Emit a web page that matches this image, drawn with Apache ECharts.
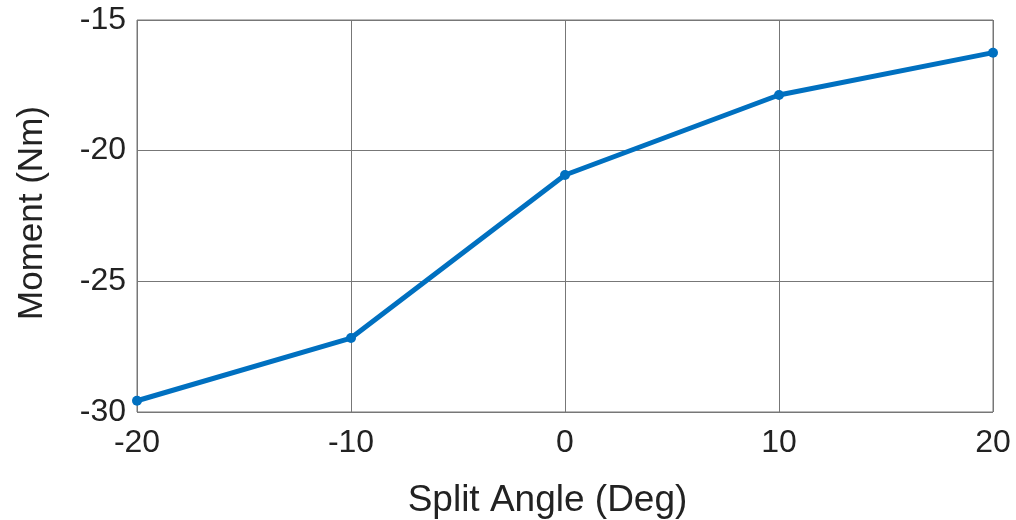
<!DOCTYPE html>
<html>
<head>
<meta charset="utf-8">
<script src="https://cdn.jsdelivr.net/npm/echarts@6/dist/echarts.min.js"></script>
<style>html,body{margin:0;padding:0;background:#fff;}#c{width:1016px;height:520px;}</style>
</head>
<body>
<div id="c"></div>
<script>
const splitAngles = [-20, -10, 0, 10, 20];
const moments = [-29.57, -27.17, -20.93, -17.87, -16.25];
const xTitle = 'Split Angle (Deg)';
const yTitle = 'Moment (Nm)';

const chart = echarts.init(document.getElementById('c'), null, {renderer: 'canvas'});
const font = 'Liberation Sans, Arial, sans-serif';
chart.setOption({
  animation: false,
  backgroundColor: '#fff',
  grid: {left: 137, right: 23, top: 20, bottom: 108, show: true, borderColor: '#777', borderWidth: 1,
         containLabel: false, outerBoundsMode: 'none'},
  xAxis: {
    type: 'value', min: -20, max: 20, interval: 10,
    name: xTitle, nameLocation: 'middle', nameGap: 70,
    nameTextStyle: {fontFamily: font, fontSize: 37, color: '#222', padding: [0, 35, 0, 0]},
    axisLine: {show: false}, axisTick: {show: false},
    axisLabel: {fontFamily: font, fontSize: 32, color: '#222', margin: 15},
    splitLine: {show: true, lineStyle: {color: '#777', width: 1}}
  },
  yAxis: {
    type: 'value', min: -30, max: -15, interval: 5,
    name: yTitle, nameLocation: 'middle', nameGap: 87,
    nameTextStyle: {fontFamily: font, fontSize: 35, color: '#222', padding: [0, 0, 0, 6]},
    axisLine: {show: false}, axisTick: {show: false},
    axisLabel: {fontFamily: font, fontSize: 32, color: '#222', margin: 11},
    splitLine: {show: true, lineStyle: {color: '#777', width: 1}}
  },
  series: [{
    type: 'line',
    data: splitAngles.map((x, i) => [x, moments[i]]),
    lineStyle: {color: '#0070c0', width: 5},
    itemStyle: {color: '#0070c0'},
    symbol: 'circle', symbolSize: 10,
    clip: false
  }]
});
</script>
</body>
</html>
